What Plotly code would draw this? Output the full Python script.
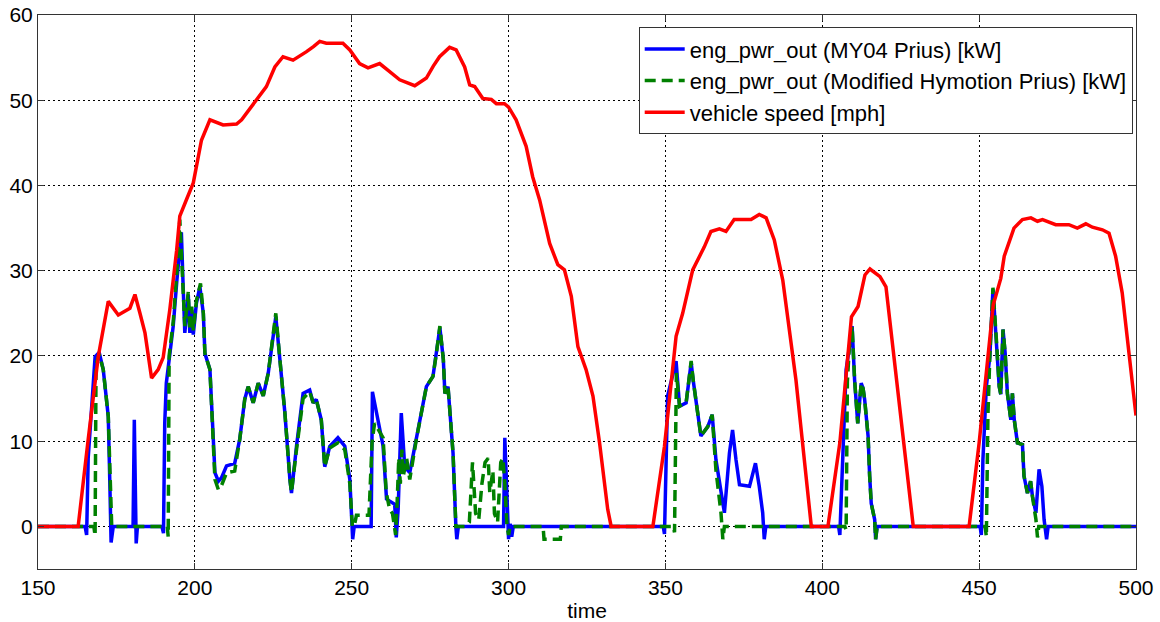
import plotly.graph_objects as go

# ---------------- data ----------------
# vehicle speed [mph]
t_speed = [150, 162.8, 166, 169.2, 172.4, 175.6, 179.3, 180.9, 182.5, 184.1, 186.2, 188.3, 189.9,
           192, 194.2, 195.2, 197.5, 199.5, 202.1, 204.8, 209, 213.3, 214.9, 217.5, 219.6, 222.8,
           225.5, 228.1, 231.3, 233.5, 235.6, 237.8, 239.8, 241.9, 247.2, 249.4, 252.5, 255.2,
           258.9, 261.6, 265.3, 270.1, 273.8, 276, 278, 281.2, 283.3, 286, 287.6, 289.2, 291.8,
           294.5, 296.1, 298.7, 300, 302.4, 305.6, 307.7, 309.9, 313.1, 315.7, 317.8, 320, 322.1,
           324.7, 326.9, 329, 331.6, 332.7, 346, 349.7, 353.4, 355.5, 358.7, 362.4, 364.5, 367.2,
           369.3, 371.9, 377.3, 379.9, 382.1, 384.7, 387.4, 391.6, 396.5, 401.8, 405.6, 409.3,
           411.4, 413.6, 415.2, 418.4, 420.3, 422.7, 425.8, 429, 446.8, 450, 454.5, 456.9, 458,
           459.6, 461.1, 463.8, 466.5, 468.6, 470.2, 474.4, 478.6, 481.3, 484, 486.1, 489.3,
           491.4, 493.5, 495.6, 497.7, 500]
v_speed = [0, 0, 10.2, 19.9, 26.4, 24.8, 25.6, 27.2, 25.0, 22.7, 17.4, 18.4, 19.8,
           25.4, 32.4, 36.4, 38.5, 40.3, 45.3, 47.7, 47.1, 47.2, 47.7, 49.0, 50.0, 51.6,
           53.9, 55.1, 54.7, 55.2, 55.7, 56.3, 56.9, 56.7, 56.7, 55.9, 54.3, 53.8,
           54.3, 53.5, 52.4, 51.7, 52.6, 54.0, 55.1, 56.2, 55.9, 53.9, 51.8, 51.6, 50.2,
           50.1, 49.6, 49.6, 49.2, 47.7, 44.6, 41.0, 38.3, 33.2, 30.7, 30.1, 27.0, 21.1,
           18.4, 15.3, 9.8, 2.0, 0, 0, 9.4, 22.3, 25.0, 30.1, 32.8, 34.6, 34.9,
           34.6, 36.0, 36.0, 36.6, 36.2, 33.6, 28.9, 17.2, 0, 0, 9.8, 24.6,
           25.8, 29.5, 30.2, 29.3, 28.1, 20.3, 10.2, 0, 0, 9.8, 26.0, 29.1, 31.7,
           33.4, 35.0, 36.0, 36.2, 35.8, 36.0, 35.4, 35.4, 35.0, 35.5, 35.1, 34.8,
           34.4, 31.7, 27.4, 20.7, 13.0]

# eng_pwr_out (MY04 Prius) [kW]
t_my04 = [150, 165, 165.5, 166, 168.2, 169.5, 170.8, 172.4, 172.9, 173.3, 174,
          180.3, 180.7, 181.0, 181.3, 181.7, 189.5, 190, 190.4, 190.9, 191.5, 193.1, 194.3,
          195.7, 196.3, 196.8, 197.9, 198.4, 199, 199.5, 200.5, 201.6, 202.7, 203.2, 204.8,
          205.3, 206.4, 207.5, 208.5, 210.1, 212.7, 214.3, 215.9, 217, 218.6, 220.2, 221.8,
          223.4, 224.4, 225.8, 227.1, 228.7, 230.3, 230.8, 232.4, 234.5, 236.6, 237.7, 238.7,
          240.3, 241.4, 243, 245.6, 247.8, 249.4, 249.9, 250.3, 250.8, 256.2, 256.6, 257.9,
          260, 261.1, 263.7, 264.2, 264.8, 265.8, 266.9, 268.5, 270.6, 273.8, 275.9, 277,
          278.1, 279.2, 279.7, 280.7, 282.3, 283.2, 283.5, 284, 298.4, 298.8, 299.4, 300,
          300.5, 301, 301.5, 349.3, 349.7, 350.2, 350.7, 353.4, 354.5, 356.6, 358.2, 358.9,
          361.3, 363.5, 364.9, 366.1, 367.2, 368.8, 370.4, 371.4, 372.5, 373.6, 376.8, 378.7,
          379.9, 381, 381.5, 382, 405.2, 405.6, 406.5, 407.6, 408.6, 409.5, 410.3, 410.8,
          411.3, 412.4, 413, 413.5, 414.6, 415.1, 415.6, 416.7, 417, 417.5, 450.3, 450.7,
          451.2, 452.3, 453.4, 454.4, 455.5, 456.4, 456.9, 457.6, 458.3, 459, 460.1, 460.6,
          461.2, 462.2, 463.8, 464.3, 465.4, 466.4, 467, 468.1, 469.1, 470, 470.7, 471.5,
          472, 500]
p_my04 = [0, 0, -1.0, 8.0, 19.9, 20.4, 18.4, 12.9, 5.1, -1.9, 0,
          0, 12.5, 3.0, -2.0, 0, 0, -0.8, 12.1, 16.8, 18.8, 23.5, 29.0,
          34.5, 27.8, 22.7, 27.2, 22.7, 25.4, 22.5, 26.2, 28.1, 25.0, 20.3, 18.4,
          14.1, 6.3, 5.3, 5.7, 7.1, 7.4, 10.2, 14.9, 16.4, 14.5, 16.8, 15.3,
          18.0, 21.1, 24.6, 19.6, 13.3, 5.5, 3.9, 9.4, 15.6, 16.0, 14.5, 14.9,
          12.5, 7.0, 9.4, 10.4, 9.4, 5.5, 1.6, -1.5, 0, 0, 15.8, 13.3,
          9.4, 3.2, 2.6, -1.3, 2.0, 13.3, 7.0, 6.3, 10.2, 16.4, 17.6, 20.3,
          23.3, 19.6, 15.6, 16.4, 8.6, 0, -1.5, 0, 0, 10.4, 4.0, -1.5,
          0.3, -1.2, 0, 0, -0.9, 8.0, 15.3, 19.4, 14.1, 14.5, 19.2, 17.0,
          10.6, 11.7, 13.1, 7.8, 5.5, 1.6, 8.6, 11.3, 7.8, 4.9, 4.7, 7.4,
          4.7, 1.6, -1.5, 0, 0, -1.0, 7.8, 18.4, 20.9, 23.5, 17.2, 14.9,
          12.1, 16.8, 16.2, 14.9, 10.6, 5.9, 2.7, 0.8, -1.5, 0, 0, -1.0,
          7.8, 16.4, 19.9, 27.8, 21.9, 16.4, 15.5, 23.1, 20.3, 15.6, 12.5, 15.6,
          12.5, 9.8, 9.6, 5.9, 3.9, 5.3, 3.5, 1.6, 6.7, 4.7, 0.8, -1.5,
          0, 0]

# eng_pwr_out (Modified Hymotion Prius) [kW]
t_hym = [150, 167.8, 168.2, 168.5, 169.5, 170.8, 172.4, 172.9, 173.5, 174,
         191.2, 191.5, 191.8, 193.1, 194.3, 195.2, 196.3, 196.8, 197.9, 198.4, 199, 199.5,
         200.5, 201.8, 202.7, 203.2, 204.8, 205.3, 206.4, 207.5, 208.5, 210.1, 212.7, 214.3,
         215.9, 217, 218.6, 220.2, 221.8, 223.4, 224.4, 225.8, 227.1, 228.7, 230.3, 230.8,
         232.4, 234.5, 236.6, 237.7, 238.7, 240.3, 241.4, 243, 245.6, 247.8, 249.4, 250.2,
         250.8, 251.5, 255.5, 256.5, 257.3, 260, 261, 262.1, 263, 264, 264.5, 265, 265.5,
         266, 266.5, 267.5, 268.5, 270.6, 273.8, 275.9, 277, 278.1, 279.2, 279.7, 280.7,
         282.3, 283.2, 286, 287.5, 288.5, 289.5, 290.5, 291.5, 292.5, 293.5, 294, 295,
         295.5, 296.5, 297.5, 298.2, 298.8, 299.5, 300, 300.5, 311, 311.3, 316.5, 316.8,
         352.5, 352.9, 353.5, 354.5, 356.6, 358.2, 358.9, 361.3, 363.5, 364.9, 366.1, 367.7,
         368.3, 368.8, 407.2, 407.6, 408, 408.6, 409.5, 410.3, 410.8, 411.3, 412.4, 413,
         413.5, 414.6, 415.1, 415.6, 416.7, 417, 417.5, 451.9, 452.3, 452.8, 453.4, 454.4,
         455.5, 456.4, 456.9, 457.6, 458.3, 459, 460.1, 460.6, 461.2, 462.2, 463.8, 464.3,
         465.4, 466.4, 467, 468.1, 468.6, 469, 500]
p_hym = [0, 0, -1.1, 19.0, 20.2, 18.4, 12.9, 5.1, 0, 0,
         0, -1.2, 20.0, 24.0, 30.0, 36.0, 28.0, 23.5, 27.5, 23.0, 25.8, 23.0,
         26.5, 28.5, 25.0, 20.3, 18.4, 14.1, 5.5, 4.3, 4.8, 6.3, 6.5, 10.2,
         14.9, 16.4, 14.5, 16.8, 15.3, 18.0, 21.1, 25.0, 19.6, 13.3, 5.5, 4.0,
         9.0, 15.0, 15.8, 14.5, 14.9, 12.5, 7.0, 9.2, 9.8, 9.0, 5.0, 0,
         0, 1.3, 1.3, 10.0, 12.1, 10.4, 4.0, 2.0, 1.5, -1.0, 3.0, 8.0, 5.0,
         9.0, 6.0, 8.0, 5.5, 10.2, 16.4, 17.6, 20.3, 23.5, 19.6, 15.6, 16.4,
         8.6, 0, 0, 0.5, 7.5, 1.5, 0.8, 5.0, 7.5, 8.0, 4.0, 6.5,
         1.5, 0.5, 7.5, 8.0, 5.0, 0, -1.0, 0, 0, -1.5, -1.5, 0,
         0, -0.7, 18.0, 14.1, 14.5, 19.4, 17.0, 10.6, 11.7, 13.1, 6.6, 1.6,
         -1.5, 0, 0, -0.4, 17.0, 20.9, 23.5, 17.2, 14.9, 12.1, 16.8, 16.2,
         14.9, 10.6, 5.9, 2.7, 0.8, -1.5, 0, 0, -1.2, 13.0, 19.9, 28.0,
         21.9, 16.4, 15.5, 23.1, 20.3, 15.6, 12.5, 15.6, 12.5, 9.8, 9.6, 5.9,
         3.9, 5.3, 3.5, 0.8, -1.3, 0, 0]

assert len(t_speed) == len(v_speed)
assert len(t_my04) == len(p_my04)
assert len(t_hym) == len(p_hym)

x_ticks = [150, 200, 250, 300, 350, 400, 450, 500]
y_ticks = [0, 10, 20, 30, 40, 50, 60]

# ---------------- figure ----------------
FONT = "Liberation Sans, Arial, sans-serif"
fig = go.Figure()
fig.add_trace(go.Scatter(x=t_my04, y=p_my04, mode="lines",
                         name="eng_pwr_out (MY04 Prius) [kW]",
                         line=dict(color="#0000FF", width=3.5)))
fig.add_trace(go.Scatter(x=t_hym, y=p_hym, mode="lines",
                         name="eng_pwr_out (Modified Hymotion Prius) [kW]",
                         line=dict(color="#008000", width=3.5, dash="11px,6px")))
fig.add_trace(go.Scatter(x=t_speed, y=v_speed, mode="lines",
                         name="vehicle speed [mph]",
                         line=dict(color="#FF0000", width=3.5)))

axis_common = dict(showline=True, linecolor="#333333", linewidth=1, mirror="ticks",
                   ticks="inside", ticklen=6, tickcolor="#333333", automargin=False,
                   showgrid=True, gridcolor="#000000", gridwidth=1, griddash="2px,3px",
                   zeroline=False, tickfont=dict(family=FONT, size=21, color="#000000"))

fig.update_xaxes(range=[150, 500], tickvals=x_ticks,
                 title=dict(text="time", font=dict(family=FONT, size=21, color="#000000"),
                            standoff=6),
                 **axis_common)
fig.update_yaxes(range=[-5, 60], tickvals=y_ticks, **axis_common)

fig.update_layout(
    width=1160, height=622,
    margin=dict(l=38, r=24, t=15, b=53),
    plot_bgcolor="white", paper_bgcolor="white",
    font=dict(family=FONT, size=21, color="#000000"),
    legend=dict(x=0.997, y=0.978, xanchor="right", yanchor="top",
                bgcolor="white", bordercolor="#333333", borderwidth=1,
                itemwidth=40, tracegroupgap=0,
                font=dict(family=FONT, size=22, color="#000000")),
)

fig.write_html("out.html")
